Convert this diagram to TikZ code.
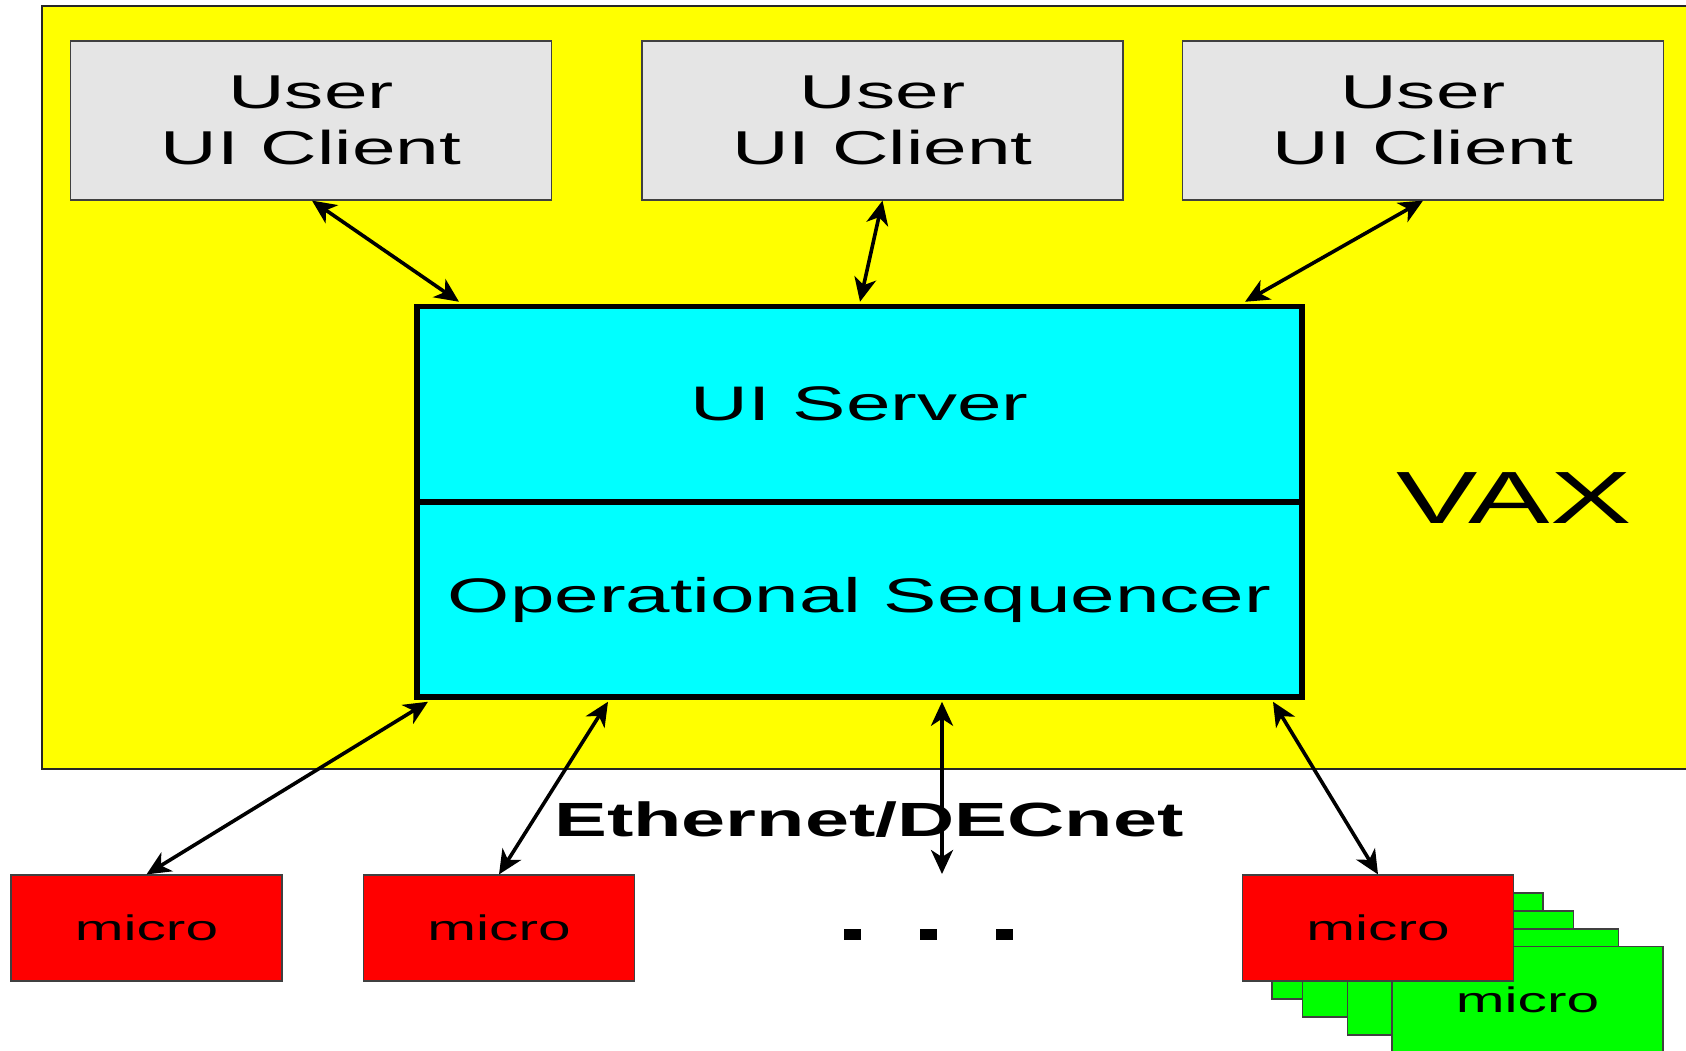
\documentclass[tikz,border=0pt]{standalone}
\usepackage{fontspec}
\setmainfont{Liberation Sans}
\newfontfamily\wf[FakeStretch=1.65]{Liberation Sans}
\usetikzlibrary{arrows.meta}
\definecolor{vaxyellow}{RGB}{255,255,0}
\definecolor{clientgray}{RGB}{229,229,229}
\definecolor{srvcyan}{RGB}{0,255,255}
\definecolor{microred}{RGB}{255,0,0}
\definecolor{microgreen}{RGB}{0,255,0}
\begin{document}
\begin{tikzpicture}[x=1pt,y=-1pt,
  box/.style={draw, inner sep=0pt, anchor=center},
  vaxbox/.style={draw=black!85, line width=1.8pt, fill=vaxyellow, inner sep=0pt, anchor=north west},
  client/.style={box, draw=black!75, line width=1.2pt, fill=clientgray,
    minimum width=481pt, minimum height=159pt, align=center,
    font=\wf\fontsize{47.5}{56}\selectfont},
  server/.style={box, draw=black, line width=5.5pt, fill=srvcyan,
    minimum width=885pt, font=\wf\fontsize{48.5}{56}\selectfont},
  micro/.style={box, draw=black!75, line width=1.2pt,
    minimum width=271pt, minimum height=106pt,
    font=\wf\fontsize{35.5}{40}\selectfont},
  redmicro/.style={micro, fill=microred},
  greenmicro/.style={micro, fill=microgreen},
  dotmark/.style={fill=black, inner sep=0pt, minimum width=17pt, minimum height=11pt},
  tipmark/.tip={Stealth[length=24pt,width=22pt,inset=7pt]},
  conn/.style={line width=3.6pt, tipmark-tipmark}
]
\useasboundingbox (0,0) rectangle (1686,1050);
\clip (0,0) rectangle (1686,1050);
\fill[white] (0,0) rectangle (1686,1050);

% VAX region
\node[vaxbox, minimum width=1700pt, minimum height=763pt] (vax) at (41,5) {};
\node[anchor=base, font=\wf\fontsize{74}{80}\selectfont] (vaxlbl) at (1514,523) {VAX};

% clients
\node[client] (cl1) at (311,120.5) {User\\UI Client};
\node[client] (cl2) at (882.5,120.5) {User\\UI Client};
\node[client] (cl3) at (1423,120.5) {User\\UI Client};

% server
\node[server, minimum height=195.5pt] (uis) at (859.5,404.25) {UI Server};
\node[server, minimum height=195pt] (ops) at (859.5,599.5) {Operational Sequencer};

% network label
\node[anchor=base, font=\wf\bfseries\fontsize{48}{54}\selectfont] (ethlbl) at (869,836) {Ethernet/DECnet};

% micros
\node[greenmicro] (g1) at (1407.5,946) {};
\node[greenmicro] (g2) at (1438,964) {};
\node[greenmicro] (g3) at (1483,982) {};
\node[greenmicro] (g4) at (1527.5,999.5) {micro};
\node[redmicro] (m1) at (146.5,928) {micro};
\node[redmicro] (m2) at (499,928) {micro};
\node[redmicro] (m3) at (1378,928) {micro};

% dots
\node[dotmark] (d1) at (852.5,934.5) {};
\node[dotmark] (d2) at (928.5,934.5) {};
\node[dotmark] (d3) at (1004.5,934.5) {};

\coordinate (eth) at (942,874);

% connectors
\draw[conn] ([xshift=1pt]cl1.south) -- ([xshift=-400.5pt,yshift=2pt]uis.north);
\draw[conn] (cl2.south) -- ([xshift=0.5pt,yshift=2pt]uis.north);
\draw[conn] (cl3.south) -- ([xshift=385.5pt,yshift=2pt]uis.north);
\draw[conn] ([xshift=-431.5pt,yshift=-2pt]ops.south) -- (m1.north);
\draw[conn] ([xshift=-251.5pt,yshift=-2pt]ops.south) -- (m2.north);
\draw[conn] ([xshift=82.5pt,yshift=-2pt]ops.south) -- (eth);
\draw[conn] ([xshift=413.5pt,yshift=-2pt]ops.south) -- (m3.north);
\end{tikzpicture}
\end{document}
